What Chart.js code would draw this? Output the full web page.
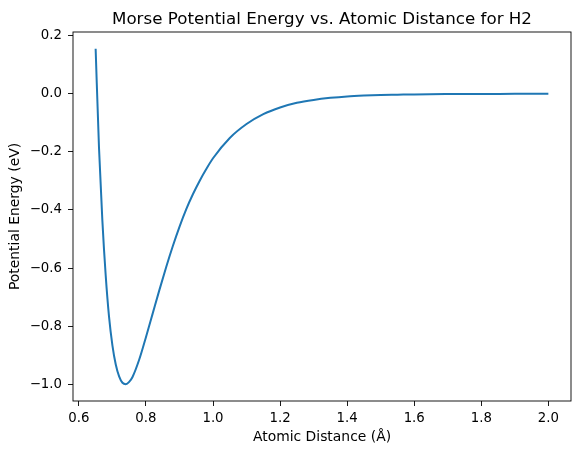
<!DOCTYPE html>
<html>
<head>
<meta charset="utf-8">
<script src="https://cdn.jsdelivr.net/npm/chart.js@4.4.0/dist/chart.umd.min.js"></script>
<style>
  html, body { margin: 0; padding: 0; background: #fff; }
  #wrap { width: 578px; height: 455px; }
</style>
</head>
<body>
<div id="wrap"><canvas id="morse" width="578" height="455"></canvas></div>
<script>
// values
const distance = [0.65, 0.66, 0.67, 0.68, 0.69, 0.70, 0.71, 0.72, 0.73, 0.74, 0.75, 0.76, 0.78,
  0.80, 0.82, 0.84, 0.86, 0.88, 0.90, 0.92, 0.94, 0.96, 0.98, 1.00, 1.05, 1.10, 1.15, 1.20,
  1.25, 1.30, 1.35, 1.40, 1.45, 1.50, 1.55, 1.60, 1.70, 1.80, 1.90, 2.00];
const energy = [0.155, -0.185, -0.435, -0.625, -0.768, -0.866, -0.932, -0.973, -0.995, -1.0, -0.992, -0.975, -0.915,
  -0.838, -0.757, -0.676, -0.598, -0.525, -0.458, -0.398, -0.346, -0.300, -0.259, -0.222, -0.152, -0.104, -0.070, -0.047,
  -0.031, -0.021, -0.014, -0.009, -0.006, -0.004, -0.003, -0.002, -0.001, -0.0004, -0.0002, -0.0001];

const xTicks = [0.6, 0.8, 1.0, 1.2, 1.4, 1.6, 1.8, 2.0];
const xTickLabels = ['0.6', '0.8', '1.0', '1.2', '1.4', '1.6', '1.8', '2.0'];
const yTicks = [-1.0, -0.8, -0.6, -0.4, -0.2, 0.0, 0.2];
const yTickLabels = ['\u22121.0', '\u22120.8', '\u22120.6', '\u22120.4', '\u22120.2', '0.0', '0.2'];

const titleText = 'Morse Potential Energy vs. Atomic Distance for H2';
const FONT = 'DejaVu Sans';

// box around the axes + title centred over the axes (like matplotlib)
const frame = {
  id: 'frame',
  afterDraw(chart) {
    const { ctx, chartArea } = chart;
    ctx.save();
    ctx.strokeStyle = '#000';
    ctx.lineWidth = 0.9;
    ctx.strokeRect(chartArea.left, chartArea.top, chartArea.right - chartArea.left, chartArea.bottom - chartArea.top);
    ctx.fillStyle = '#000';
    ctx.font = '16.7px "' + FONT + '"';
    ctx.textAlign = 'center';
    ctx.textBaseline = 'alphabetic';
    ctx.fillText(titleText, (chartArea.left + chartArea.right) / 2, chartArea.top - 8);
    ctx.restore();
  }
};

const ctx = document.getElementById('morse');

new Chart(ctx, {
  type: 'line',
  data: {
    datasets: [{
      label: 'Morse',
      data: distance.map((d, i) => ({ x: d, y: energy[i] })),
      borderColor: '#1f77b4',
      borderWidth: 2,
      pointRadius: 0,
      fill: false,
      cubicInterpolationMode: 'monotone'
    }]
  },
  options: {
    responsive: false,
    animation: false,
    layout: { padding: { top: 32, right: 7, left: 0, bottom: 0 } },
    plugins: {
      legend: { display: false },
      tooltip: { enabled: false },
      title: { display: false }
    },
    scales: {
      x: {
        type: 'linear',
        min: 0.5825,
        max: 2.0675,
        afterBuildTicks: (scale) => { scale.ticks = xTicks.map(v => ({ value: v })); },
        afterFit: (scale) => { scale.height = 54; },
        ticks: {
          color: '#000',
          font: { family: FONT, size: 13.3 },
          padding: 5,
          maxRotation: 0,
          autoSkip: false,
          callback: (v) => xTickLabels[xTicks.findIndex(t => Math.abs(t - v) < 1e-9)]
        },
        grid: { drawOnChartArea: false, tickLength: 5, color: '#000', tickWidth: 0.9 },
        border: { display: false },
        title: {
          display: true,
          text: 'Atomic Distance (\u00c5)',
          color: '#000',
          font: { family: FONT, size: 13.9 },
          padding: { top: 2, bottom: 9 }
        }
      },
      y: {
        min: -1.0578,
        max: 0.2128,
        afterBuildTicks: (scale) => { scale.ticks = yTicks.map(v => ({ value: v })); },
        afterFit: (scale) => { scale.width = 73; },
        ticks: {
          color: '#000',
          font: { family: FONT, size: 13.3 },
          padding: 6,
          autoSkip: false,
          callback: (v) => yTickLabels[yTicks.findIndex(t => Math.abs(t - v) < 1e-9)]
        },
        grid: { drawOnChartArea: false, tickLength: 5, color: '#000', tickWidth: 0.9 },
        border: { display: false },
        title: {
          display: true,
          text: 'Potential Energy (eV)',
          color: '#000',
          font: { family: FONT, size: 13.9 },
          padding: { top: 7, bottom: 4 }
        }
      }
    }
  },
  plugins: [frame]
});
</script>
</body>
</html>
